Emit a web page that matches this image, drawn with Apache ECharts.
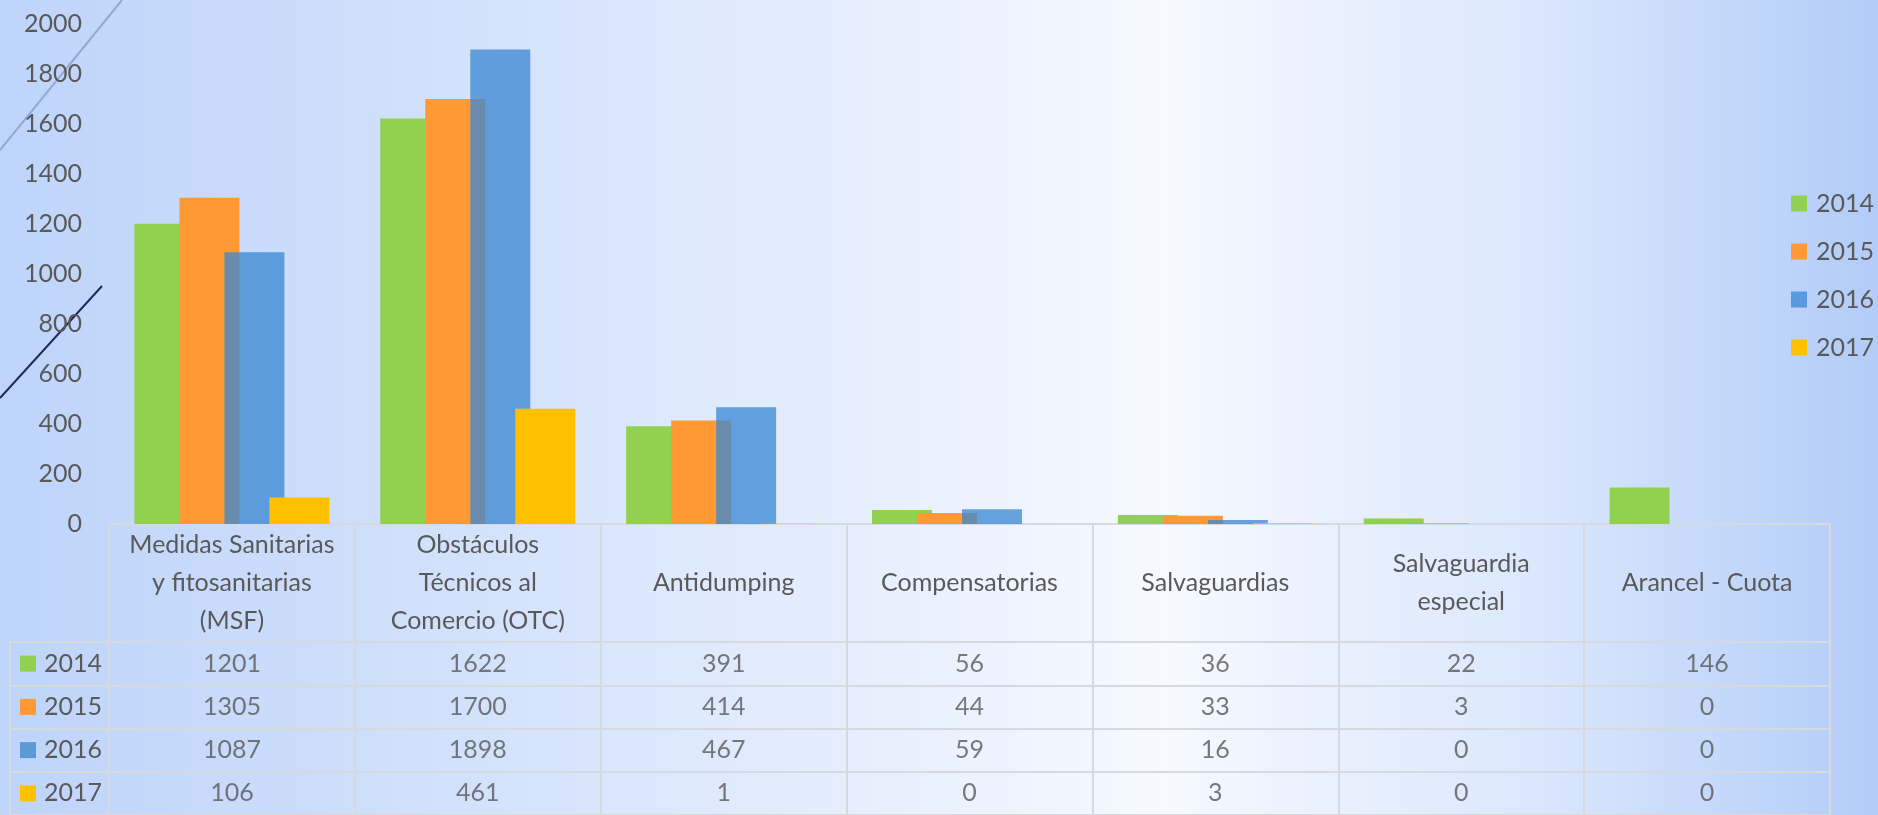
<!DOCTYPE html>
<html>
<head>
<meta charset="utf-8">
<script src="https://cdn.jsdelivr.net/npm/echarts@6/dist/echarts.min.js"></script>
<style>
  html, body { margin: 0; padding: 0; }
  #chart { width: 1878px; height: 815px; }
</style>
</head>
<body>
<div id="chart"></div>
<script>
// datos de la tabla
var categorias = [
    'Medidas Sanitarias\ny fitosanitarias\n(MSF)',
    'Obstáculos\nTécnicos al\nComercio (OTC)',
    'Antidumping',
    'Compensatorias',
    'Salvaguardias',
    'Salvaguardia\nespecial',
    'Arancel - Cuota'
];
var anios = ['2014', '2015', '2016', '2017'];
var valores2014 = [1201, 1622, 391, 56, 36, 22, 146];
var valores2015 = [1305, 1700, 414, 44, 33, 3, 0];
var valores2016 = [1087, 1898, 467, 59, 16, 0, 0];
var valores2017 = [106, 461, 1, 0, 3, 0, 0];

var valores = [valores2014, valores2015, valores2016, valores2017];
var colores = ['#92D050', '#FF9933', 'rgba(58,136,212,0.76)', '#FFC000'];
var coloresCuadro = ['#92D050', '#FF9933', '#5B9BD5', '#FFC000'];
var gris = '#595959';
var linea = '#D6D9DE';

var chartDom = document.getElementById('chart');
var myChart = echarts.init(chartDom);

var series = [];
anios.forEach(function (anio, k) {
    // barras
    series.push({
        name: anio,
        type: 'bar',
        xAxisIndex: 0,
        yAxisIndex: 0,
        barWidth: 60,
        barGap: '-25%',
        itemStyle: { color: colores[k] },
        data: valores[k]
    });
    // valores de la tabla
    series.push({
        name: 'tabla ' + anio,
        type: 'scatter',
        xAxisIndex: 2,
        yAxisIndex: 2,
        symbolSize: 1,
        silent: true,
        itemStyle: { color: 'transparent' },
        label: {
            show: true,
            position: 'inside',
            fontSize: 25,
            color: gris,
            formatter: function (p) { return p.value[2]; }
        },
        data: valores[k].map(function (v, i) { return [i, anio, v]; })
    });
});

var rich = { g: { width: 8 }, t: { fontSize: 25, color: gris } };
coloresCuadro.forEach(function (c, i) {
    rich['s' + i] = { backgroundColor: c, width: 16, height: 16 };
});

var option = {
    animation: false,
    backgroundColor: new echarts.graphic.LinearGradient(0, 0, 1, 0, [
        { offset: 0, color: '#BED4FA' },
        { offset: 0.3, color: '#D7E5FC' },
        { offset: 0.62, color: '#F6F9FF' },
        { offset: 0.82, color: '#DAE7FD' },
        { offset: 1, color: '#B2CCF8' }
    ]),
    textStyle: { fontFamily: 'Lato' },
    graphic: [
        { type: 'line', z: -1, shape: { x1: 0, y1: 150, x2: 122, y2: 0 }, style: { stroke: 'rgba(130,150,190,0.7)', lineWidth: 2 } },
        { type: 'line', z: -1, shape: { x1: 0, y1: 398, x2: 102, y2: 286 }, style: { stroke: '#1F2A5A', lineWidth: 2 } }
    ],
    legend: {
        orient: 'vertical',
        left: 1786,
        top: 186,
        icon: 'rect',
        itemWidth: 16,
        itemHeight: 16,
        itemGap: 23,
        data: anios,
        textStyle: { fontSize: 25, color: gris, lineHeight: 25, padding: [0, 0, 0, 4] }
    },
    grid: [
        { left: 109, right: 48, top: 24, height: 500 },   // barras
        { left: 109, right: 48, top: 524, height: 118 },  // encabezado
        { left: 109, right: 48, top: 642, height: 179 },  // valores
        { left: 10, width: 99, top: 642, height: 179 }    // leyenda de filas
    ],
    xAxis: [
        {
            type: 'category',
            gridIndex: 0,
            data: categorias,
            axisTick: { show: false },
            axisLine: { lineStyle: { color: linea, width: 2 } },
            axisLabel: {
                interval: 0,
                margin: 59,
                verticalAlign: 'middle',
                fontSize: 25,
                lineHeight: 38,
                color: gris
            }
        },
        {
            type: 'category',
            gridIndex: 1,
            data: categorias,
            axisTick: { show: false },
            axisLine: { show: false },
            axisLabel: { show: false },
            splitLine: { show: true, lineStyle: { color: linea, width: 2 } }
        },
        {
            type: 'category',
            gridIndex: 2,
            data: categorias,
            axisTick: { show: false },
            axisLine: { show: false },
            axisLabel: { show: false },
            splitLine: { show: true, lineStyle: { color: linea, width: 2 } }
        },
        {
            type: 'category',
            gridIndex: 3,
            data: [''],
            axisTick: { show: false },
            axisLine: { show: false },
            axisLabel: { show: false },
            splitLine: { show: true, lineStyle: { color: linea, width: 2 } }
        }
    ],
    yAxis: [
        {
            type: 'value',
            gridIndex: 0,
            min: 0,
            max: 2000,
            interval: 200,
            splitLine: { show: false },
            axisLine: { show: false },
            axisTick: { show: false },
            axisLabel: {
                fontSize: 25,
                color: gris,
                margin: 27,
                formatter: function (v) { return String(v); }
            }
        },
        {
            type: 'value',
            gridIndex: 1,
            show: false
        },
        {
            type: 'category',
            gridIndex: 2,
            data: anios,
            inverse: true,
            axisTick: { show: false },
            axisLine: { show: false },
            axisLabel: { show: false },
            splitLine: { show: true, lineStyle: { color: linea, width: 2 } }
        },
        {
            type: 'category',
            gridIndex: 3,
            data: anios,
            inverse: true,
            axisTick: { show: false },
            axisLine: { show: false },
            splitLine: { show: true, lineStyle: { color: linea, width: 2 } },
            axisLabel: {
                inside: true,
                margin: 10,
                formatter: function (v, i) { return '{s' + i + '|}{g|}{t|' + v + '}'; },
                rich: rich
            }
        }
    ],
    series: series
};
myChart.setOption(option);
</script>
</body>
</html>
